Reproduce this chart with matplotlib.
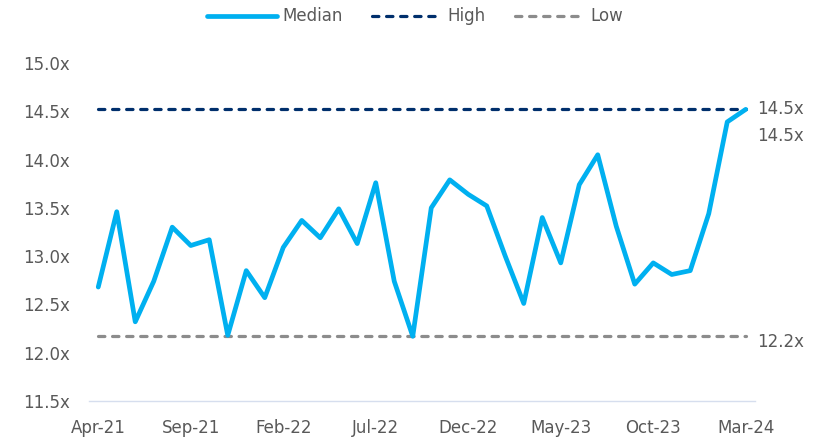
import matplotlib
matplotlib.use("Agg")
import matplotlib.pyplot as plt

plt.rcParams['font.family'] = ['DejaVu Sans']

# Monthly data Apr-21 .. Mar-24 (36 months)
median = [12.68, 13.46, 12.32, 12.74, 13.30, 13.11, 13.17, 12.18, 12.85, 12.57,
          13.09, 13.37, 13.19, 13.49, 13.13, 13.76, 12.74, 12.17, 13.50, 13.79,
          13.64, 13.52, 13.00, 12.51, 13.40, 12.93, 13.74, 14.05, 13.31, 12.71,
          12.93, 12.81, 12.85, 13.44, 14.39, 14.52]
high_value = 14.52
low_value = 12.17
tick_labels = ["Apr-21", "Sep-21", "Feb-22", "Jul-22", "Dec-22", "May-23", "Oct-23", "Mar-24"]
tick_step = 5
y_ticks = [11.5, 12.0, 12.5, 13.0, 13.5, 14.0, 14.5, 15.0]

n = len(median)
x = list(range(n))
high = [high_value] * n
low = [low_value] * n

TEXT = '#595959'
C_MED = '#00B0F0'
C_HIGH = '#002F6C'
C_LOW = '#8C8C8C'

fig = plt.figure(figsize=(8.3, 4.43), dpi=100)
ax = fig.add_axes([89/830, 1 - 401/443, (755-89)/830, (401-63)/443])

ax.plot(x, median, color=C_MED, lw=3.4, solid_joinstyle='round', solid_capstyle='round',
        label='Median', zorder=3)
ax.plot(x, high, color=C_HIGH, lw=2.3, linestyle=(0, (2.0, 2.4)), dash_capstyle='round', label='High', zorder=2)
ax.plot(x, low, color=C_LOW, lw=2.3, linestyle=(0, (2.0, 2.4)), dash_capstyle='round', label='Low', zorder=2)

ax.set_xlim(-0.5, n - 0.5)
ax.set_ylim(11.5, 15.0)
ax.set_yticks(y_ticks)
ax.set_yticklabels([f"{v:.1f}x" for v in y_ticks])
ax.set_xticks(list(range(0, n, tick_step)))
ax.set_xticklabels(tick_labels)

for s in ['top', 'right', 'left']:
    ax.spines[s].set_visible(False)
ax.spines['bottom'].set_color('#D6DEEE')
ax.spines['bottom'].set_linewidth(1.0)
ax.tick_params(axis='y', length=0, pad=14, labelsize=12, labelcolor=TEXT)
ax.tick_params(axis='x', length=0, pad=13, labelsize=12, labelcolor=TEXT)

# end labels
ax.annotate(f"{high_value:.1f}x", xy=(n - 1, high_value), xytext=(8, 0), textcoords='offset points',
            va='center', ha='left', fontsize=12, color=TEXT, annotation_clip=False)
ax.annotate(f"{median[-1]:.1f}x", xy=(n - 1, median[-1]), xytext=(8, -19), textcoords='offset points',
            va='center', ha='left', fontsize=12, color=TEXT, annotation_clip=False)
ax.annotate(f"{low_value:.1f}x", xy=(n - 1, low_value), xytext=(8, -4), textcoords='offset points',
            va='center', ha='left', fontsize=12, color=TEXT, annotation_clip=False)

leg = fig.legend(loc='upper center', bbox_to_anchor=(0.5, 1.017), ncol=3, frameon=False,
                 fontsize=12, handlelength=4.2, handletextpad=0.3, columnspacing=1.8)
for t in leg.get_texts():
    t.set_color(TEXT)

fig.savefig('out.png', dpi=100)
